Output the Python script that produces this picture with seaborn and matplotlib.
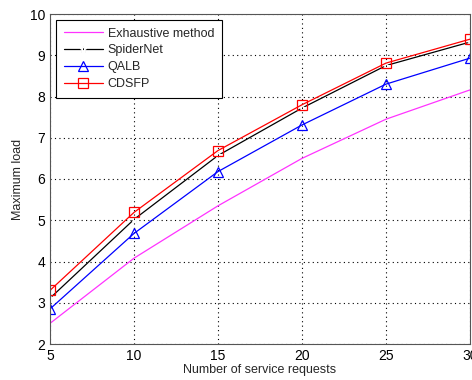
import matplotlib
matplotlib.use("Agg")
import matplotlib.pyplot as plt
import seaborn as sns
import pandas as pd

requests = [5, 10, 15, 20, 25, 30]
exhaustive = [2.50, 4.08, 5.35, 6.50, 7.45, 8.16]
spidernet = [3.11, 5.02, 6.57, 7.72, 8.75, 9.32]
qalb = [2.85, 4.68, 6.18, 7.31, 8.30, 8.93]
cdsfp = [3.30, 5.19, 6.69, 7.80, 8.81, 9.39]

series_names = ["Exhaustive method", "SpiderNet", "QALB", "CDSFP"]
series_values = [exhaustive, spidernet, qalb, cdsfp]

rows = []
for name, vals in zip(series_names, series_values):
    for x, y in zip(requests, vals):
        rows.append({"requests": x, "load": y, "method": name})
df = pd.DataFrame(rows)

sns.set_style("white")
plt.rcParams['font.family'] = ['Liberation Sans', 'DejaVu Sans']

fig = plt.figure(figsize=(4.72, 3.80), dpi=100)
ax = fig.add_axes([50/472, 36/380, 420/472, 330/380])

styles = {
    "Exhaustive method": dict(color="#ff33ff", marker=None),
    "SpiderNet": dict(color="black", marker="*", markersize=5),
    "QALB": dict(color="blue", marker="^", markersize=7, markerfacecolor="none", markeredgecolor="blue"),
    "CDSFP": dict(color="red", marker="s", markersize=7, markerfacecolor="none", markeredgecolor="red"),
}
for name in series_names:
    sub = df[df["method"] == name]
    st = styles[name]
    sns.lineplot(data=sub, x="requests", y="load", ax=ax, label=name,
                 linewidth=0.9, markeredgewidth=0.9, **st)

ax.set_xlim(5, 30)
ax.set_ylim(2, 10)
ax.set_xticks(requests)
ax.set_yticks(range(2, 11))
ax.tick_params(direction="in", labelsize=10, length=3, colors="#333333", labelcolor="black")
ax.grid(True, linestyle=(0, (1, 3)), color="black", linewidth=0.8)
for s in ax.spines.values():
    s.set_color("#555555")
    s.set_linewidth(0.8)
ax.set_xlabel("Number of service requests", fontsize=9, labelpad=1)
ax.set_ylabel("Maximum load", fontsize=9, labelpad=4)

leg = ax.legend(loc="upper left", fontsize=9, frameon=True, fancybox=False,
                edgecolor="black", framealpha=1, borderaxespad=0.5,
                handlelength=3.1, handletextpad=0.4, labelspacing=0.38, borderpad=0.6)
leg.get_frame().set_linewidth(0.8)

fig.savefig("out.png", dpi=100)
